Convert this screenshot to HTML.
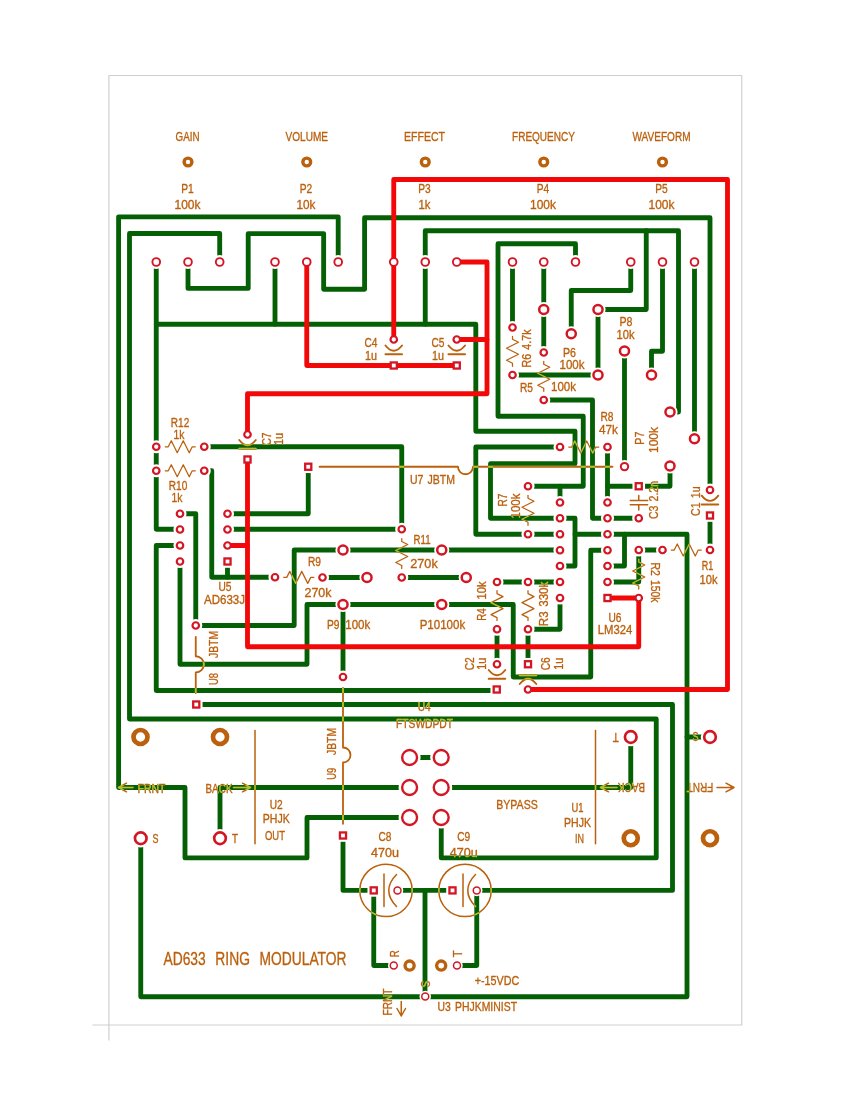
<!DOCTYPE html>
<html lang="en"><head><meta charset="utf-8"><title>AD633 Ring Modulator PCB</title>
<style>html,body{margin:0;padding:0;background:#fff}svg{display:block}text{font-family:"Liberation Sans","DejaVu Sans",sans-serif;text-anchor:middle;word-spacing:0.12em;stroke:currentColor;stroke-width:0.32px;fill:currentColor}</style></head><body>
<svg width="850" height="1100" viewBox="0 0 850 1100">
<rect width="850" height="1100" fill="#fff"/>
<defs>
<g id="gt" fill="none" stroke-width="4.85" stroke-linejoin="round" stroke-linecap="round">
<path d="M338.2,262 L338.2,216.8 L118.6,216.8 L118.6,787.5 L185,787.5 L185,857.9 L307,857.9 L307,817.5 L409.5,817.5"/>
<path d="M219.7,262 L219.7,233.5 L129.5,233.5 L129.5,719 L656.25,719 L656.25,857.9 L441.25,857.9 L441.25,817.5"/>
<path d="M188,262 L188,288.4 L248.2,288.4 L248.2,233.6 L323.65,233.6 L323.65,289.2 L364.6,289.2 L364.6,217.7 L710,217.7 L710,490"/>
<path d="M156.25,262 L156.25,529.25 L180,529.25"/>
<path d="M156.25,324.25 L475.8,324.25 L475.8,431.25 L575,431.25 L575,463.75 L490.5,463.75 L490.5,518.25 L575,518.25 L575,566 L560,566"/>
<path d="M575,534.25 L687,534.25 L687,996.75 L140.75,996.75 L140.75,838.25"/>
<path d="M687,737 L710,737"/>
<path d="M425,996.75 L425,890.4"/>
<path d="M275,262 L275,324.25"/>
<path d="M425.25,324.25 L425.25,230.75 L678.5,230.75 L678.5,412 L670,412"/>
<path d="M646.25,230.75 L646.25,309.5 L598,309.5 L598,375 L512.5,375"/>
<path d="M575.5,262 L575.5,243.75 L498,243.75 L498,416.25 L583.25,416.25 L583.25,486.25 L528,486.25"/>
<path d="M560,502.5 L560,486.25"/>
<path d="M512.5,262 L512.5,327.5"/>
<path d="M543.75,262 L543.75,352.5"/>
<path d="M630.75,262 L630.75,290.5 L571.25,290.5 L571.25,333.75"/>
<path d="M662.5,262 L662.5,351.25 L651.5,351.25 L651.5,375"/>
<path d="M694.5,262 L694.5,438.75"/>
<path d="M624.5,351 L624.5,466.6"/>
<path d="M543.75,400 L592.5,400 L592.5,518.25 L638.75,518.25"/>
<path d="M607.5,447 L607.5,502.5"/>
<path d="M607.5,486.25 L670,486.25 L670,466"/>
<path d="M204.25,446.75 L401.75,446.75 L401.75,529.25 L227.5,529.25"/>
<path d="M560,447 L475.8,447 L475.8,534.25 L560,534.25"/>
<path d="M204.25,470.75 L211.75,470.75 L211.75,577.25 L275,577.25"/>
<path d="M227.5,561.5 L227.5,577.25"/>
<path d="M180,513.75 L195.75,513.75 L195.75,625.5 L294.2,625.5 L294.2,550 L560,550"/>
<path d="M180,545.5 L156.25,545.5 L156.25,690.5 L496.75,690.5"/>
<path d="M180,561.5 L180,664.25 L307,664.25 L307,604.5 L513.25,604.5 L513.25,677 L590.75,677 L590.75,550.25 L607.5,550.25"/>
<path d="M227.5,513.75 L308.25,513.75 L308.25,466.75"/>
<path d="M196.25,704.5 L672.5,704.5 L672.5,890.4 L476.75,890.4 L476.75,965.5 L457,965.5"/>
<path d="M322.5,577.5 L367,577.5"/>
<path d="M401.75,577.5 L466.25,577.5"/>
<path d="M560,582 L497,582"/>
<path d="M560,598 L560,629.25 L528,629.25 L528,664.25"/>
<path d="M497,629.25 L497,664.25"/>
<path d="M607.5,566 L624.5,566 L624.5,534.25"/>
<path d="M607.5,582 L638.75,582 L638.75,550 L662.5,550"/>
<path d="M710,515.5 L710,550"/>
<path d="M343,604.5 L343,677"/>
<path d="M409.5,757.5 L441.25,757.5"/>
<path d="M409.5,787.5 L220,787.5 L220,838.25"/>
<path d="M441.25,787.5 L630.75,787.5 L630.75,737"/>
<path d="M343,835.5 L343,890.4 L373.75,890.4 L373.75,965.5 L393.75,965.5"/>
<path d="M397.5,890.4 L452.5,890.4"/>
</g>
<g id="hl" stroke="none">
<circle cx="156.25" cy="262" r="7"/>
<circle cx="188" cy="262" r="7"/>
<circle cx="219.7" cy="262" r="7"/>
<circle cx="275" cy="262" r="7"/>
<circle cx="306.75" cy="262" r="7"/>
<circle cx="338.2" cy="262" r="7"/>
<circle cx="393.75" cy="262" r="7"/>
<circle cx="425.25" cy="262" r="7"/>
<circle cx="456.75" cy="262" r="7"/>
<circle cx="512.5" cy="262" r="7"/>
<circle cx="543.75" cy="262" r="7"/>
<circle cx="575.5" cy="262" r="7"/>
<circle cx="630.75" cy="262" r="7"/>
<circle cx="662.5" cy="262" r="7"/>
<circle cx="694.5" cy="262" r="7"/>
<circle cx="393.75" cy="339.5" r="6.55"/>
<rect x="387.45" y="359.2" width="12.6" height="12.6"/>
<circle cx="456.75" cy="339.5" r="6.55"/>
<rect x="450.45" y="359.2" width="12.6" height="12.6"/>
<circle cx="247.5" cy="434.5" r="6.55"/>
<rect x="241.2" y="453.2" width="12.6" height="12.6"/>
<circle cx="156.25" cy="446.75" r="6.55"/>
<circle cx="204.25" cy="446.75" r="6.55"/>
<circle cx="156.25" cy="470.75" r="6.55"/>
<circle cx="204.25" cy="470.75" r="6.55"/>
<circle cx="180" cy="513.75" r="6.55"/>
<circle cx="180" cy="529.5" r="6.55"/>
<circle cx="180" cy="545.5" r="6.55"/>
<circle cx="180" cy="561.5" r="6.55"/>
<circle cx="227.5" cy="513.75" r="6.55"/>
<circle cx="227.5" cy="529.5" r="6.55"/>
<circle cx="227.5" cy="545.5" r="6.55"/>
<rect x="221.2" y="555.2" width="12.6" height="12.6"/>
<rect x="301.95" y="460.45" width="12.6" height="12.6"/>
<circle cx="401.75" cy="529.25" r="6.55"/>
<circle cx="195.75" cy="625.5" r="6.55"/>
<rect x="189.95" y="698.2" width="12.6" height="12.6"/>
<circle cx="343" cy="550" r="7.6"/>
<circle cx="441.75" cy="550" r="7.6"/>
<circle cx="275" cy="577.25" r="6.55"/>
<circle cx="322.5" cy="577.5" r="6.55"/>
<circle cx="367" cy="577.5" r="7.6"/>
<circle cx="401.75" cy="577.5" r="6.55"/>
<circle cx="466.25" cy="577.5" r="7.6"/>
<circle cx="343" cy="604.5" r="7.6"/>
<circle cx="441.75" cy="604.5" r="7.6"/>
<circle cx="343" cy="677" r="6.55"/>
<circle cx="497" cy="582" r="6.55"/>
<circle cx="497" cy="629.25" r="6.55"/>
<circle cx="528" cy="582" r="6.55"/>
<circle cx="528" cy="629.25" r="6.55"/>
<circle cx="497" cy="664.25" r="6.55"/>
<rect x="490.45" y="683.2" width="12.6" height="12.6"/>
<rect x="521.7" y="657.95" width="12.6" height="12.6"/>
<circle cx="528" cy="689.5" r="6.55"/>
<circle cx="560" cy="502.5" r="6.55"/>
<circle cx="560" cy="518.25" r="6.55"/>
<circle cx="560" cy="534.25" r="6.55"/>
<circle cx="560" cy="550.25" r="6.55"/>
<circle cx="560" cy="566" r="6.55"/>
<circle cx="560" cy="582" r="6.55"/>
<circle cx="560" cy="598" r="6.55"/>
<circle cx="607.5" cy="502.5" r="6.55"/>
<circle cx="607.5" cy="518.25" r="6.55"/>
<circle cx="607.5" cy="534.25" r="6.55"/>
<circle cx="607.5" cy="550.25" r="6.55"/>
<circle cx="607.5" cy="566" r="6.55"/>
<circle cx="607.5" cy="582" r="6.55"/>
<rect x="601.2" y="591.7" width="12.6" height="12.6"/>
<circle cx="528" cy="486.25" r="6.55"/>
<circle cx="528" cy="534.25" r="6.55"/>
<circle cx="560" cy="447" r="6.55"/>
<circle cx="607.5" cy="447" r="6.55"/>
<circle cx="512.5" cy="327.5" r="6.55"/>
<circle cx="512.5" cy="375" r="6.55"/>
<circle cx="543.75" cy="352.5" r="6.55"/>
<circle cx="543.75" cy="400" r="6.55"/>
<circle cx="543.75" cy="309.5" r="7.6"/>
<circle cx="571.25" cy="333.75" r="7.6"/>
<circle cx="598" cy="309.5" r="7.6"/>
<circle cx="598" cy="375" r="7.6"/>
<circle cx="624.5" cy="351" r="7.6"/>
<circle cx="651.5" cy="375" r="7.6"/>
<circle cx="624.5" cy="466.6" r="6.7"/>
<circle cx="670" cy="412" r="7.6"/>
<circle cx="694.5" cy="438.75" r="7.6"/>
<circle cx="670" cy="466" r="7.6"/>
<rect x="632.45" y="479.95" width="12.6" height="12.6"/>
<circle cx="638.75" cy="518.25" r="6.55"/>
<circle cx="710" cy="490" r="6.55"/>
<rect x="703.7" y="509.2" width="12.6" height="12.6"/>
<circle cx="710" cy="550" r="6.55"/>
<circle cx="638.75" cy="550" r="6.55"/>
<circle cx="662.5" cy="550" r="6.55"/>
<circle cx="638.75" cy="598" r="6.55"/>
<circle cx="409.6" cy="757.5" r="11"/>
<circle cx="441.2" cy="757.5" r="11"/>
<circle cx="409.6" cy="787.5" r="11"/>
<circle cx="441.2" cy="787.5" r="11"/>
<circle cx="409.6" cy="817.5" r="11"/>
<circle cx="441.2" cy="817.5" r="11"/>
<circle cx="140.75" cy="838.25" r="9.25"/>
<circle cx="220" cy="838.25" r="9.25"/>
<circle cx="630.75" cy="737" r="9.25"/>
<circle cx="710" cy="737" r="9.25"/>
<rect x="336.7" y="829.2" width="12.6" height="12.6"/>
<rect x="367.45" y="884.1" width="12.6" height="12.6"/>
<circle cx="397.5" cy="890.4" r="5.75"/>
<rect x="446.2" y="884.1" width="12.6" height="12.6"/>
<circle cx="476.75" cy="890.4" r="5.75"/>
<circle cx="393.75" cy="965.5" r="5.75"/>
<circle cx="457" cy="965.5" r="5.75"/>
<circle cx="425.25" cy="996.6" r="5.75"/>
</g>
<mask id="mk" maskUnits="userSpaceOnUse" x="0" y="0" width="850" height="1100"><rect width="850" height="1100" fill="#000"/><use href="#gt" stroke="#fff"/><use href="#hl" fill="#000"/></mask>
</defs>
<path d="M108.9,1040.5 L108.9,75.5 L741.75,75.5 L741.75,1025 L92.5,1025" fill="none" stroke="#CFCFCF" stroke-width="1.2"/>
<use href="#gt" stroke="#056005"/>
<g fill="#fff" stroke="#BB600C">
<circle cx="188" cy="162" r="3.9" stroke-width="3.4"/>
<circle cx="306.75" cy="162" r="3.9" stroke-width="3.4"/>
<circle cx="425.25" cy="162" r="3.9" stroke-width="3.4"/>
<circle cx="543.75" cy="162" r="3.9" stroke-width="3.4"/>
<circle cx="662.5" cy="162" r="3.9" stroke-width="3.4"/>
<circle cx="140.5" cy="737" r="7" stroke-width="4.7"/>
<circle cx="220" cy="737" r="7" stroke-width="4.7"/>
<circle cx="630.75" cy="838.25" r="7" stroke-width="4.7"/>
<circle cx="710" cy="838.25" r="7" stroke-width="4.7"/>
<circle cx="409.6" cy="965.6" r="4.55" stroke-width="3.4"/>
<circle cx="441.2" cy="965.6" r="4.55" stroke-width="3.4"/>
</g>
<use href="#hl" fill="#fff"/>
<g fill="none" stroke="#F20808" stroke-width="4.85" stroke-linejoin="round" stroke-linecap="round">
<path d="M393.75,339.5 L393.75,179.5 L727.5,179.5 L727.5,689.5 L528,689.5"/>
<path d="M306.75,262 L306.75,365.5 L456.75,365.5"/>
<path d="M456.75,262 L487,262 L487,393.75 L247.5,393.75 L247.5,434.5"/>
<path d="M456.75,339.5 L487,339.5"/>
<path d="M247.5,459.5 L247.5,646.75 L638.75,646.75 L638.75,598 L607.5,598"/>
<path d="M227.5,545.5 L247.5,545.5"/>
</g>
<g fill="#fff" stroke="#D41624">
<circle cx="156.25" cy="262" r="3.85" stroke-width="1.9"/>
<circle cx="188" cy="262" r="3.85" stroke-width="1.9"/>
<circle cx="219.7" cy="262" r="3.85" stroke-width="1.9"/>
<circle cx="275" cy="262" r="3.85" stroke-width="1.9"/>
<circle cx="306.75" cy="262" r="3.85" stroke-width="1.9"/>
<circle cx="338.2" cy="262" r="3.85" stroke-width="1.9"/>
<circle cx="393.75" cy="262" r="3.85" stroke-width="1.9"/>
<circle cx="425.25" cy="262" r="3.85" stroke-width="1.9"/>
<circle cx="456.75" cy="262" r="3.85" stroke-width="1.9"/>
<circle cx="512.5" cy="262" r="3.85" stroke-width="1.9"/>
<circle cx="543.75" cy="262" r="3.85" stroke-width="1.9"/>
<circle cx="575.5" cy="262" r="3.85" stroke-width="1.9"/>
<circle cx="630.75" cy="262" r="3.85" stroke-width="1.9"/>
<circle cx="662.5" cy="262" r="3.85" stroke-width="1.9"/>
<circle cx="694.5" cy="262" r="3.85" stroke-width="1.9"/>
<circle cx="393.75" cy="339.5" r="3.25" stroke-width="2.2"/>
<rect x="390.7" y="362.45" width="6.1" height="6.1" stroke-width="2.3"/>
<circle cx="456.75" cy="339.5" r="3.25" stroke-width="2.2"/>
<rect x="453.7" y="362.45" width="6.1" height="6.1" stroke-width="2.3"/>
<circle cx="247.5" cy="434.5" r="3.25" stroke-width="2.2"/>
<rect x="244.45" y="456.45" width="6.1" height="6.1" stroke-width="2.3"/>
<circle cx="156.25" cy="446.75" r="3.25" stroke-width="2.2"/>
<circle cx="204.25" cy="446.75" r="3.25" stroke-width="2.2"/>
<circle cx="156.25" cy="470.75" r="3.25" stroke-width="2.2"/>
<circle cx="204.25" cy="470.75" r="3.25" stroke-width="2.2"/>
<circle cx="180" cy="513.75" r="3.25" stroke-width="2.2"/>
<circle cx="180" cy="529.5" r="3.25" stroke-width="2.2"/>
<circle cx="180" cy="545.5" r="3.25" stroke-width="2.2"/>
<circle cx="180" cy="561.5" r="3.25" stroke-width="2.2"/>
<circle cx="227.5" cy="513.75" r="3.25" stroke-width="2.2"/>
<circle cx="227.5" cy="529.5" r="3.25" stroke-width="2.2"/>
<circle cx="227.5" cy="545.5" r="3.25" stroke-width="2.2"/>
<rect x="224.45" y="558.45" width="6.1" height="6.1" stroke-width="2.3"/>
<rect x="305.2" y="463.7" width="6.1" height="6.1" stroke-width="2.3"/>
<circle cx="401.75" cy="529.25" r="3.25" stroke-width="2.2"/>
<circle cx="195.75" cy="625.5" r="3.25" stroke-width="2.2"/>
<rect x="193.2" y="701.45" width="6.1" height="6.1" stroke-width="2.3"/>
<circle cx="343" cy="550" r="4.55" stroke-width="2.5"/>
<circle cx="441.75" cy="550" r="4.55" stroke-width="2.5"/>
<circle cx="275" cy="577.25" r="3.25" stroke-width="2.2"/>
<circle cx="322.5" cy="577.5" r="3.25" stroke-width="2.2"/>
<circle cx="367" cy="577.5" r="4.55" stroke-width="2.5"/>
<circle cx="401.75" cy="577.5" r="3.25" stroke-width="2.2"/>
<circle cx="466.25" cy="577.5" r="4.55" stroke-width="2.5"/>
<circle cx="343" cy="604.5" r="4.55" stroke-width="2.5"/>
<circle cx="441.75" cy="604.5" r="4.55" stroke-width="2.5"/>
<circle cx="343" cy="677" r="3.25" stroke-width="2.2"/>
<circle cx="497" cy="582" r="3.25" stroke-width="2.2"/>
<circle cx="497" cy="629.25" r="3.25" stroke-width="2.2"/>
<circle cx="528" cy="582" r="3.25" stroke-width="2.2"/>
<circle cx="528" cy="629.25" r="3.25" stroke-width="2.2"/>
<circle cx="497" cy="664.25" r="3.25" stroke-width="2.2"/>
<rect x="493.7" y="686.45" width="6.1" height="6.1" stroke-width="2.3"/>
<rect x="524.95" y="661.2" width="6.1" height="6.1" stroke-width="2.3"/>
<circle cx="528" cy="689.5" r="3.25" stroke-width="2.2"/>
<circle cx="560" cy="502.5" r="3.25" stroke-width="2.2"/>
<circle cx="560" cy="518.25" r="3.25" stroke-width="2.2"/>
<circle cx="560" cy="534.25" r="3.25" stroke-width="2.2"/>
<circle cx="560" cy="550.25" r="3.25" stroke-width="2.2"/>
<circle cx="560" cy="566" r="3.25" stroke-width="2.2"/>
<circle cx="560" cy="582" r="3.25" stroke-width="2.2"/>
<circle cx="560" cy="598" r="3.25" stroke-width="2.2"/>
<circle cx="607.5" cy="502.5" r="3.25" stroke-width="2.2"/>
<circle cx="607.5" cy="518.25" r="3.25" stroke-width="2.2"/>
<circle cx="607.5" cy="534.25" r="3.25" stroke-width="2.2"/>
<circle cx="607.5" cy="550.25" r="3.25" stroke-width="2.2"/>
<circle cx="607.5" cy="566" r="3.25" stroke-width="2.2"/>
<circle cx="607.5" cy="582" r="3.25" stroke-width="2.2"/>
<rect x="604.45" y="594.95" width="6.1" height="6.1" stroke-width="2.3"/>
<circle cx="528" cy="486.25" r="3.25" stroke-width="2.2"/>
<circle cx="528" cy="534.25" r="3.25" stroke-width="2.2"/>
<circle cx="560" cy="447" r="3.25" stroke-width="2.2"/>
<circle cx="607.5" cy="447" r="3.25" stroke-width="2.2"/>
<circle cx="512.5" cy="327.5" r="3.25" stroke-width="2.2"/>
<circle cx="512.5" cy="375" r="3.25" stroke-width="2.2"/>
<circle cx="543.75" cy="352.5" r="3.25" stroke-width="2.2"/>
<circle cx="543.75" cy="400" r="3.25" stroke-width="2.2"/>
<circle cx="543.75" cy="309.5" r="4.55" stroke-width="2.5"/>
<circle cx="571.25" cy="333.75" r="4.55" stroke-width="2.5"/>
<circle cx="598" cy="309.5" r="4.55" stroke-width="2.5"/>
<circle cx="598" cy="375" r="4.55" stroke-width="2.5"/>
<circle cx="624.5" cy="351" r="4.55" stroke-width="2.5"/>
<circle cx="651.5" cy="375" r="4.55" stroke-width="2.5"/>
<circle cx="624.5" cy="466.6" r="3.7" stroke-width="2"/>
<circle cx="670" cy="412" r="4.55" stroke-width="2.5"/>
<circle cx="694.5" cy="438.75" r="4.55" stroke-width="2.5"/>
<circle cx="670" cy="466" r="4.55" stroke-width="2.5"/>
<rect x="635.7" y="483.2" width="6.1" height="6.1" stroke-width="2.3"/>
<circle cx="638.75" cy="518.25" r="3.25" stroke-width="2.2"/>
<circle cx="710" cy="490" r="3.25" stroke-width="2.2"/>
<rect x="706.95" y="512.45" width="6.1" height="6.1" stroke-width="2.3"/>
<circle cx="710" cy="550" r="3.25" stroke-width="2.2"/>
<circle cx="638.75" cy="550" r="3.25" stroke-width="2.2"/>
<circle cx="662.5" cy="550" r="3.25" stroke-width="2.2"/>
<circle cx="638.75" cy="598" r="3.25" stroke-width="2.2"/>
<circle cx="409.6" cy="757.5" r="7.45" stroke-width="2.4"/>
<circle cx="441.2" cy="757.5" r="7.45" stroke-width="2.4"/>
<circle cx="409.6" cy="787.5" r="7.45" stroke-width="2.4"/>
<circle cx="441.2" cy="787.5" r="7.45" stroke-width="2.4"/>
<circle cx="409.6" cy="817.5" r="7.45" stroke-width="2.4"/>
<circle cx="441.2" cy="817.5" r="7.45" stroke-width="2.4"/>
<circle cx="140.75" cy="838.25" r="5.8" stroke-width="2.7"/>
<circle cx="220" cy="838.25" r="5.8" stroke-width="2.7"/>
<circle cx="630.75" cy="737" r="5.8" stroke-width="2.7"/>
<circle cx="710" cy="737" r="5.8" stroke-width="2.7"/>
<rect x="339.95" y="832.45" width="6.1" height="6.1" stroke-width="2.3"/>
<rect x="370.7" y="887.35" width="6.1" height="6.1" stroke-width="2.3"/>
<circle cx="397.5" cy="890.4" r="3.5" stroke-width="1.5"/>
<rect x="449.45" y="887.35" width="6.1" height="6.1" stroke-width="2.3"/>
<circle cx="476.75" cy="890.4" r="3.5" stroke-width="1.5"/>
<circle cx="393.75" cy="965.5" r="3.5" stroke-width="1.5"/>
<circle cx="457" cy="965.5" r="3.5" stroke-width="1.5"/>
<circle cx="425.25" cy="996.6" r="3.5" stroke-width="1.5"/>
</g>
<g opacity="0.999" color="#BB600C">
<g id="silk" fill="none" stroke="currentColor" stroke-width="1.5" stroke-linecap="round" stroke-linejoin="round">
<path stroke-width="1.25" transform="translate(180.25,446.75) rotate(0)" d="M-15,0 L-12,0 L-9,-6 L-3,6 L3,-6 L9,6 L12,0 L15,0"/>
<path stroke-width="1.25" transform="translate(180.25,470.75) rotate(0)" d="M-15,0 L-12,0 L-9,-6 L-3,6 L3,-6 L9,6 L12,0 L15,0"/>
<path stroke-width="1.25" transform="translate(298.75,577.4) rotate(0)" d="M-15,0 L-12,0 L-9,-6 L-3,6 L3,-6 L9,6 L12,0 L15,0"/>
<path stroke-width="1.25" transform="translate(401.75,553.5) rotate(90)" d="M-15,0 L-12,0 L-9,-6 L-3,6 L3,-6 L9,6 L12,0 L15,0"/>
<path stroke-width="1.25" transform="translate(512.5,351.25) rotate(90)" d="M-15,0 L-12,0 L-9,-6 L-3,6 L3,-6 L9,6 L12,0 L15,0"/>
<path stroke-width="1.25" transform="translate(543.75,376.25) rotate(90)" d="M-15,0 L-12,0 L-9,-6 L-3,6 L3,-6 L9,6 L12,0 L15,0"/>
<path stroke-width="1.25" transform="translate(583.75,447) rotate(0)" d="M-15,0 L-12,0 L-9,-6 L-3,6 L3,-6 L9,6 L12,0 L15,0"/>
<path stroke-width="1.25" transform="translate(528,510.25) rotate(90)" d="M-15,0 L-12,0 L-9,-6 L-3,6 L3,-6 L9,6 L12,0 L15,0"/>
<path stroke-width="1.25" transform="translate(497,605.6) rotate(90)" d="M-15,0 L-12,0 L-9,-6 L-3,6 L3,-6 L9,6 L12,0 L15,0"/>
<path stroke-width="1.25" transform="translate(528,605.6) rotate(90)" d="M-15,0 L-12,0 L-9,-6 L-3,6 L3,-6 L9,6 L12,0 L15,0"/>
<path stroke-width="1.25" transform="translate(638.75,574) rotate(90)" d="M-15,0 L-12,0 L-9,-6 L-3,6 L3,-6 L9,6 L12,0 L15,0"/>
<path stroke-width="1.25" transform="translate(686.25,550) rotate(0)" d="M-15,0 L-12,0 L-9,-6 L-3,6 L3,-6 L9,6 L12,0 L15,0"/>
<text transform="translate(187.5,136.5) rotate(0)" y="4.47" font-size="12.5" textLength="24" lengthAdjust="spacingAndGlyphs">GAIN</text>
<text transform="translate(306.75,136.5) rotate(0)" y="4.47" font-size="12.5" textLength="42.5" lengthAdjust="spacingAndGlyphs">VOLUME</text>
<text transform="translate(424.5,136.5) rotate(0)" y="4.47" font-size="12.5" textLength="41" lengthAdjust="spacingAndGlyphs">EFFECT</text>
<text transform="translate(543.5,136.5) rotate(0)" y="4.47" font-size="12.5" textLength="63" lengthAdjust="spacingAndGlyphs">FREQUENCY</text>
<text transform="translate(661.5,136.5) rotate(0)" y="4.47" font-size="12.5" textLength="58" lengthAdjust="spacingAndGlyphs">WAVEFORM</text>
<text transform="translate(187.5,188.5) rotate(0)" y="4.30" font-size="12" textLength="12.5" lengthAdjust="spacingAndGlyphs">P1</text>
<text transform="translate(306,188.5) rotate(0)" y="4.30" font-size="12" textLength="12.5" lengthAdjust="spacingAndGlyphs">P2</text>
<text transform="translate(424.5,188.5) rotate(0)" y="4.30" font-size="12" textLength="12.5" lengthAdjust="spacingAndGlyphs">P3</text>
<text transform="translate(543,188.5) rotate(0)" y="4.30" font-size="12" textLength="12.5" lengthAdjust="spacingAndGlyphs">P4</text>
<text transform="translate(661.5,188.5) rotate(0)" y="4.30" font-size="12" textLength="12.5" lengthAdjust="spacingAndGlyphs">P5</text>
<text transform="translate(187.5,204.5) rotate(0)" y="4.30" font-size="12" textLength="26" lengthAdjust="spacingAndGlyphs">100k</text>
<text transform="translate(306,204.5) rotate(0)" y="4.30" font-size="12" textLength="19" lengthAdjust="spacingAndGlyphs">10k</text>
<text transform="translate(424.5,204.5) rotate(0)" y="4.30" font-size="12" textLength="12" lengthAdjust="spacingAndGlyphs">1k</text>
<text transform="translate(543,204.5) rotate(0)" y="4.30" font-size="12" textLength="26" lengthAdjust="spacingAndGlyphs">100k</text>
<text transform="translate(661.5,204.5) rotate(0)" y="4.30" font-size="12" textLength="26" lengthAdjust="spacingAndGlyphs">100k</text>
<text transform="translate(180,422.5) rotate(0)" y="4.30" font-size="12" textLength="18.5" lengthAdjust="spacingAndGlyphs">R12</text>
<text transform="translate(179,434.5) rotate(0)" y="4.30" font-size="12" textLength="11" lengthAdjust="spacingAndGlyphs">1k</text>
<text transform="translate(178,485.75) rotate(0)" y="4.30" font-size="12" textLength="18.5" lengthAdjust="spacingAndGlyphs">R10</text>
<text transform="translate(177,497.5) rotate(0)" y="4.30" font-size="12" textLength="11" lengthAdjust="spacingAndGlyphs">1k</text>
<text transform="translate(371,343) rotate(0)" y="4.30" font-size="12" textLength="13" lengthAdjust="spacingAndGlyphs">C4</text>
<text transform="translate(371,356) rotate(0)" y="4.30" font-size="12" textLength="12" lengthAdjust="spacingAndGlyphs">1u</text>
<text transform="translate(438,343) rotate(0)" y="4.30" font-size="12" textLength="13" lengthAdjust="spacingAndGlyphs">C5</text>
<text transform="translate(438,356) rotate(0)" y="4.30" font-size="12" textLength="12" lengthAdjust="spacingAndGlyphs">1u</text>
<text transform="translate(266.5,439) rotate(-90)" y="4.30" font-size="12" textLength="13" lengthAdjust="spacingAndGlyphs">C7</text>
<text transform="translate(279,439) rotate(-90)" y="4.30" font-size="12" textLength="12" lengthAdjust="spacingAndGlyphs">1u</text>
<text transform="translate(432.5,479.25) rotate(0)" y="4.30" font-size="12" textLength="45" lengthAdjust="spacingAndGlyphs">U7 JBTM</text>
<text transform="translate(422,540) rotate(0)" y="4.30" font-size="12" textLength="17" lengthAdjust="spacingAndGlyphs">R11</text>
<text transform="translate(424,563.5) rotate(0)" y="4.30" font-size="12" textLength="27.5" lengthAdjust="spacingAndGlyphs">270k</text>
<text transform="translate(314.5,562) rotate(0)" y="4.30" font-size="12" textLength="13" lengthAdjust="spacingAndGlyphs">R9</text>
<text transform="translate(318,593) rotate(0)" y="4.30" font-size="12" textLength="27" lengthAdjust="spacingAndGlyphs">270k</text>
<text transform="translate(225,586.75) rotate(0)" y="4.30" font-size="12" textLength="13" lengthAdjust="spacingAndGlyphs">U5</text>
<text transform="translate(224.5,599.5) rotate(0)" y="4.30" font-size="12" textLength="41" lengthAdjust="spacingAndGlyphs">AD633J</text>
<text transform="translate(333.2,624.5) rotate(0)" y="4.30" font-size="12" textLength="12.5" lengthAdjust="spacingAndGlyphs">P9</text>
<text transform="translate(357.8,624.5) rotate(0)" y="4.30" font-size="12" textLength="25" lengthAdjust="spacingAndGlyphs">100k</text>
<text transform="translate(442.4,624.5) rotate(0)" y="4.30" font-size="12" textLength="45.5" lengthAdjust="spacingAndGlyphs">P10100k</text>
<text transform="translate(213.75,644.5) rotate(-90)" y="4.30" font-size="12" textLength="27" lengthAdjust="spacingAndGlyphs">JBTM</text>
<text transform="translate(213.75,679) rotate(-90)" y="4.30" font-size="12" textLength="12" lengthAdjust="spacingAndGlyphs">U8</text>
<text transform="translate(331.25,741.5) rotate(-90)" y="4.30" font-size="12" textLength="27" lengthAdjust="spacingAndGlyphs">JBTM</text>
<text transform="translate(331.25,773.75) rotate(-90)" y="4.30" font-size="12" textLength="12" lengthAdjust="spacingAndGlyphs">U9</text>
<text transform="translate(424.25,706.75) rotate(0)" y="4.30" font-size="12" textLength="13" lengthAdjust="spacingAndGlyphs">U4</text>
<text transform="translate(424.5,723.25) rotate(0)" y="4.30" font-size="12" textLength="57" lengthAdjust="spacingAndGlyphs">FTSWDPDT</text>
<text transform="translate(527,348.5) rotate(-90)" y="4.30" font-size="12" textLength="38" lengthAdjust="spacingAndGlyphs">R6 4.7k</text>
<text transform="translate(569.5,352.5) rotate(0)" y="4.30" font-size="12" textLength="13" lengthAdjust="spacingAndGlyphs">P6</text>
<text transform="translate(572,365) rotate(0)" y="4.30" font-size="12" textLength="25" lengthAdjust="spacingAndGlyphs">100k</text>
<text transform="translate(526.5,388) rotate(0)" y="4.30" font-size="12" textLength="13" lengthAdjust="spacingAndGlyphs">R5</text>
<text transform="translate(563.5,387) rotate(0)" y="4.30" font-size="12" textLength="25" lengthAdjust="spacingAndGlyphs">100k</text>
<text transform="translate(626,322) rotate(0)" y="4.30" font-size="12" textLength="13" lengthAdjust="spacingAndGlyphs">P8</text>
<text transform="translate(625.5,334.25) rotate(0)" y="4.30" font-size="12" textLength="18" lengthAdjust="spacingAndGlyphs">10k</text>
<text transform="translate(607,416.75) rotate(0)" y="4.30" font-size="12" textLength="13" lengthAdjust="spacingAndGlyphs">R8</text>
<text transform="translate(608.5,430) rotate(0)" y="4.30" font-size="12" textLength="19" lengthAdjust="spacingAndGlyphs">47k</text>
<text transform="translate(640,438.2) rotate(-90)" y="4.30" font-size="12" textLength="13" lengthAdjust="spacingAndGlyphs">P7</text>
<text transform="translate(653.2,440) rotate(-90)" y="4.30" font-size="12" textLength="26" lengthAdjust="spacingAndGlyphs">100k</text>
<text transform="translate(502.5,500) rotate(-90)" y="4.30" font-size="12" textLength="13" lengthAdjust="spacingAndGlyphs">R7</text>
<text transform="translate(515.5,506) rotate(-90)" y="4.30" font-size="12" textLength="25" lengthAdjust="spacingAndGlyphs">100k</text>
<text transform="translate(654,500) rotate(-90)" y="4.30" font-size="12" textLength="38" lengthAdjust="spacingAndGlyphs">C3 2.2n</text>
<text transform="translate(695.6,501.2) rotate(-90)" y="4.30" font-size="12" textLength="29.5" lengthAdjust="spacingAndGlyphs">C1 1u</text>
<text transform="translate(707.5,565.75) rotate(0)" y="4.30" font-size="12" textLength="11.5" lengthAdjust="spacingAndGlyphs">R1</text>
<text transform="translate(708.5,579.5) rotate(0)" y="4.30" font-size="12" textLength="18" lengthAdjust="spacingAndGlyphs">10k</text>
<text transform="translate(655,582.5) rotate(90)" y="4.30" font-size="12" textLength="40" lengthAdjust="spacingAndGlyphs">R2 150k</text>
<text transform="translate(615,617.5) rotate(0)" y="4.30" font-size="12" textLength="13" lengthAdjust="spacingAndGlyphs">U6</text>
<text transform="translate(615,630) rotate(0)" y="4.30" font-size="12" textLength="34.5" lengthAdjust="spacingAndGlyphs">LM324</text>
<text transform="translate(481.8,614.5) rotate(-90)" y="4.30" font-size="12" textLength="12.5" lengthAdjust="spacingAndGlyphs">R4</text>
<text transform="translate(481.8,590.5) rotate(-90)" y="4.30" font-size="12" textLength="18" lengthAdjust="spacingAndGlyphs">10k</text>
<text transform="translate(543.5,603.9) rotate(-90)" y="4.30" font-size="12" textLength="44.5" lengthAdjust="spacingAndGlyphs">R3 330k</text>
<text transform="translate(470,663.75) rotate(-90)" y="4.30" font-size="12" textLength="13" lengthAdjust="spacingAndGlyphs">C2</text>
<text transform="translate(481.5,663.75) rotate(-90)" y="4.30" font-size="12" textLength="12" lengthAdjust="spacingAndGlyphs">1u</text>
<text transform="translate(546,663.75) rotate(-90)" y="4.30" font-size="12" textLength="13" lengthAdjust="spacingAndGlyphs">C6</text>
<text transform="translate(558.75,663.75) rotate(-90)" y="4.30" font-size="12" textLength="12" lengthAdjust="spacingAndGlyphs">1u</text>
<text transform="translate(151.5,789) rotate(0)" y="4.30" font-size="12" textLength="28" lengthAdjust="spacingAndGlyphs">FRNT</text>
<text transform="translate(219,789) rotate(0)" y="4.30" font-size="12" textLength="27" lengthAdjust="spacingAndGlyphs">BACK</text>
<text transform="translate(631.5,787) rotate(180)" y="4.30" font-size="12" textLength="27" lengthAdjust="spacingAndGlyphs">BACK</text>
<text transform="translate(700,787) rotate(180)" y="4.30" font-size="12" textLength="26.5" lengthAdjust="spacingAndGlyphs">FRNT</text>
<text transform="translate(615.75,737.5) rotate(180)" y="4.30" font-size="12" textLength="6" lengthAdjust="spacingAndGlyphs">T</text>
<text transform="translate(695.5,737) rotate(0)" y="4.30" font-size="12" textLength="6" lengthAdjust="spacingAndGlyphs">S</text>
<text transform="translate(155.5,838.25) rotate(0)" y="4.30" font-size="12" textLength="6" lengthAdjust="spacingAndGlyphs">S</text>
<text transform="translate(235,838.25) rotate(0)" y="4.30" font-size="12" textLength="6" lengthAdjust="spacingAndGlyphs">T</text>
<text transform="translate(276.25,805) rotate(0)" y="4.30" font-size="12" textLength="13" lengthAdjust="spacingAndGlyphs">U2</text>
<text transform="translate(276.25,818.5) rotate(0)" y="4.30" font-size="12" textLength="27" lengthAdjust="spacingAndGlyphs">PHJK</text>
<text transform="translate(275,835.75) rotate(0)" y="4.30" font-size="12" textLength="20" lengthAdjust="spacingAndGlyphs">OUT</text>
<text transform="translate(517,804.25) rotate(0)" y="4.30" font-size="12" textLength="41.5" lengthAdjust="spacingAndGlyphs">BYPASS</text>
<text transform="translate(577.5,807.5) rotate(0)" y="4.30" font-size="12" textLength="12" lengthAdjust="spacingAndGlyphs">U1</text>
<text transform="translate(577.5,823) rotate(0)" y="4.30" font-size="12" textLength="27" lengthAdjust="spacingAndGlyphs">PHJK</text>
<text transform="translate(579.5,838.25) rotate(0)" y="4.30" font-size="12" textLength="9" lengthAdjust="spacingAndGlyphs">IN</text>
<text transform="translate(385,836.75) rotate(0)" y="4.30" font-size="12" textLength="13" lengthAdjust="spacingAndGlyphs">C8</text>
<text transform="translate(385,852.5) rotate(0)" y="4.30" font-size="12" textLength="28" lengthAdjust="spacingAndGlyphs">470u</text>
<text transform="translate(463.75,836.75) rotate(0)" y="4.30" font-size="12" textLength="13" lengthAdjust="spacingAndGlyphs">C9</text>
<text transform="translate(463.75,852.5) rotate(0)" y="4.30" font-size="12" textLength="28" lengthAdjust="spacingAndGlyphs">470u</text>
<text transform="translate(255,958.5) rotate(0)" y="6.26" font-size="17.5" textLength="183" lengthAdjust="spacingAndGlyphs" style="word-spacing:0.42em">AD633 RING MODULATOR</text>
<text transform="translate(394,953.8) rotate(-90)" y="4.58" font-size="12.8" textLength="7" lengthAdjust="spacingAndGlyphs">R</text>
<text transform="translate(457,953.8) rotate(-90)" y="4.58" font-size="12.8" textLength="7" lengthAdjust="spacingAndGlyphs">T</text>
<text transform="translate(425.5,984) rotate(-90)" y="4.58" font-size="12.8" textLength="6.8" lengthAdjust="spacingAndGlyphs">S</text>
<text transform="translate(388,1002) rotate(-90)" y="4.30" font-size="12" textLength="27" lengthAdjust="spacingAndGlyphs">FRNT</text>
<text transform="translate(477.25,1007) rotate(0)" y="4.30" font-size="12" textLength="79.5" lengthAdjust="spacingAndGlyphs">U3 PHJKMINIST</text>
<text transform="translate(497,980.5) rotate(0)" y="4.30" font-size="12" textLength="44.5" lengthAdjust="spacingAndGlyphs">+-15VDC</text>
<path d="M133,787.5 L118.5,787.5 M126.5,783.2 L118.5,787.5 L126.5,791.8"/>
<path d="M233.5,787.5 L250.5,787.5 M242.5,783.2 L250.5,787.5 L242.5,791.8"/>
<path d="M617,787.5 L600.5,787.5 M608.5,783.2 L600.5,787.5 L608.5,791.8"/>
<path d="M717,787.5 L734,787.5 M726,783.2 L734,787.5 L726,791.8"/>
<path d="M401.25,1001.5 L401.25,1016 M397,1008.5 L401.25,1016 L405.5,1008.5"/>
<path d="M255,730.5 L255,843.75"/>
<path d="M595.5,730.5 L595.5,843.75"/>
<path stroke-width="1.8" d="M319.5,466.75 L458,466.75 A7.5,7.5 0 0 0 473,466.75 L612.5,466.75"/>
<path stroke-width="1.8" d="M195.75,637 L195.75,656.25 A8.1,8.1 0 0 1 195.75,672.5 L195.75,693"/>
<path stroke-width="1.8" d="M343,688 L343,747.5 A7.5,7.5 0 0 1 343,762.5 L343,823.75"/>
<path stroke-width="1.9" transform="translate(393.75,352.5) rotate(0)" d="M-8.3,1.8 L8.3,1.8 M-8.3,-7 Q0,3.4 8.3,-7"/>
<path stroke-width="1.9" transform="translate(456.75,352.5) rotate(0)" d="M-8.3,1.8 L8.3,1.8 M-8.3,-7 Q0,3.4 8.3,-7"/>
<path stroke-width="1.9" transform="translate(247.5,447) rotate(0)" d="M-8.3,1.8 L8.3,1.8 M-8.3,-7 Q0,3.4 8.3,-7"/>
<path stroke-width="1.9" transform="translate(710,502.7) rotate(0)" d="M-8.3,1.8 L8.3,1.8 M-8.3,-7 Q0,3.4 8.3,-7"/>
<path stroke-width="1.9" transform="translate(497,677) rotate(0)" d="M-8.3,1.8 L8.3,1.8 M-8.3,-7 Q0,3.4 8.3,-7"/>
<path stroke-width="1.9" transform="translate(528,677) rotate(180)" d="M-8.3,1.8 L8.3,1.8 M-8.3,-7 Q0,3.4 8.3,-7"/>
<path d="M638.75,495.5 L638.75,500.6 M630.3,500.6 L647.6,500.6 M630.3,504.8 L647.6,504.8 M638.75,504.8 L638.75,510"/>
<circle cx="386" cy="890.4" r="26.2" fill="none"/>
<path d="M384,874 L384,906.5 M396.5,874.5 Q381,890.4 396.5,906.5"/>
<circle cx="465" cy="890.4" r="26.2" fill="none"/>
<path d="M463,874 L463,906.5 M475.5,874.5 Q460,890.4 475.5,906.5"/>
</g></g>
<use href="#silk" color="#ACC434" mask="url(#mk)"/>
</svg></body></html>
